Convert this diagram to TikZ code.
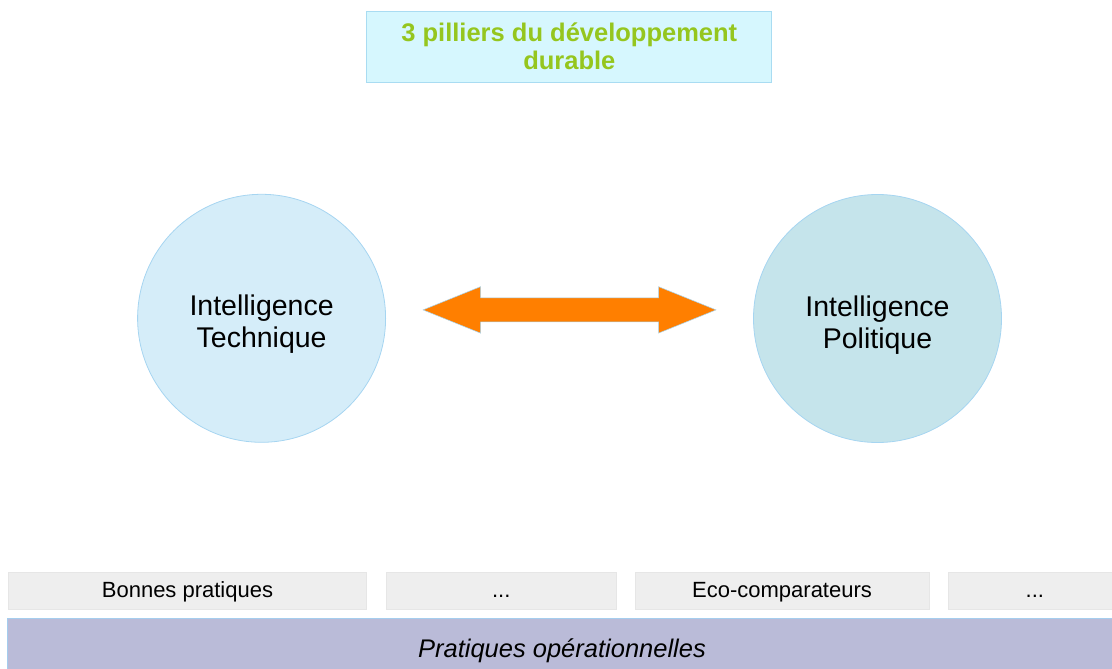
\documentclass[tikz,border=0pt]{standalone}
\usepackage{fontspec}
\setmainfont{Liberation Sans}
\usetikzlibrary{calc,positioning,shapes.arrows}
\definecolor{titlefill}{HTML}{D6F7FE}
\definecolor{titleline}{HTML}{A9DCF2}
\definecolor{leaf}{HTML}{95C61E}
\definecolor{techfill}{HTML}{D5EDF9}
\definecolor{polifill}{HTML}{C5E4EB}
\definecolor{ringline}{HTML}{A6D5F1}
\definecolor{swap}{HTML}{FF7F00}
\definecolor{cellfill}{HTML}{EEEEEE}
\definecolor{cellline}{HTML}{E6E6E6}
\definecolor{basefill}{HTML}{BABBD8}
\definecolor{baseedge}{HTML}{A5CDEE}

\begin{document}
\begin{tikzpicture}[x=1pt,y=-1pt,
 ring/.style={circle,draw=ringline,line width=0.8pt,minimum size=248pt,inner sep=0pt,align=center,font=\fontsize{28.5}{32}\selectfont},
 cell/.style={draw=cellline,fill=cellfill,line width=0.6pt,minimum height=37pt,inner sep=0pt,text height=16pt,text depth=3pt,font=\fontsize{22}{25}\selectfont}]
\clip (0,0) rectangle (1112,669);
% top: title
\node[draw=titleline,fill=titlefill,line width=0.8pt,minimum width=405pt,minimum height=71pt,inner sep=0pt,align=center,text=leaf,font=\fontsize{25.5}{28}\selectfont\bfseries] (title) at (569.3,46.7) {3 pilliers du développement\\durable};
% middle: the two circles and the link
\node[ring,fill=techfill] (tech) at (261.6,318.3) {\rule{0pt}{33pt}Intelligence\\Technique};
\node[ring,fill=polifill] (poli) at (877.5,318.5) {\rule{0pt}{33pt}Intelligence\\Politique};
\node[double arrow,fill=swap,draw=ringline,line width=0.5pt,inner xsep=0pt,inner ysep=11.7pt,minimum height=293pt,double arrow head extend=11.3pt,double arrow tip angle=44,yshift=8.5pt] (link) at ($(tech)!0.5!(poli)$) {};
% bottom: the practices
\node[cell,minimum width=358.4pt] (bonnes) at (187.5,590.5) {Bonnes pratiques};
\node[cell,minimum width=229.3pt,right=19.3pt of bonnes] (etc) {...};
\node[cell,minimum width=293.7pt,right=18.7pt of etc] (eco) {Eco-comparateurs};
\node[cell,minimum width=173.4pt,right=18.6pt of eco] (more) {...};
\node[draw=baseedge,fill=basefill,line width=0.8pt,minimum width=1110pt,minimum height=63.5pt,inner sep=0pt,font=\fontsize{25.5}{30}\selectfont\itshape] (ops) at (562,650.5) {Pratiques opérationnelles};
\end{tikzpicture}
\end{document}
